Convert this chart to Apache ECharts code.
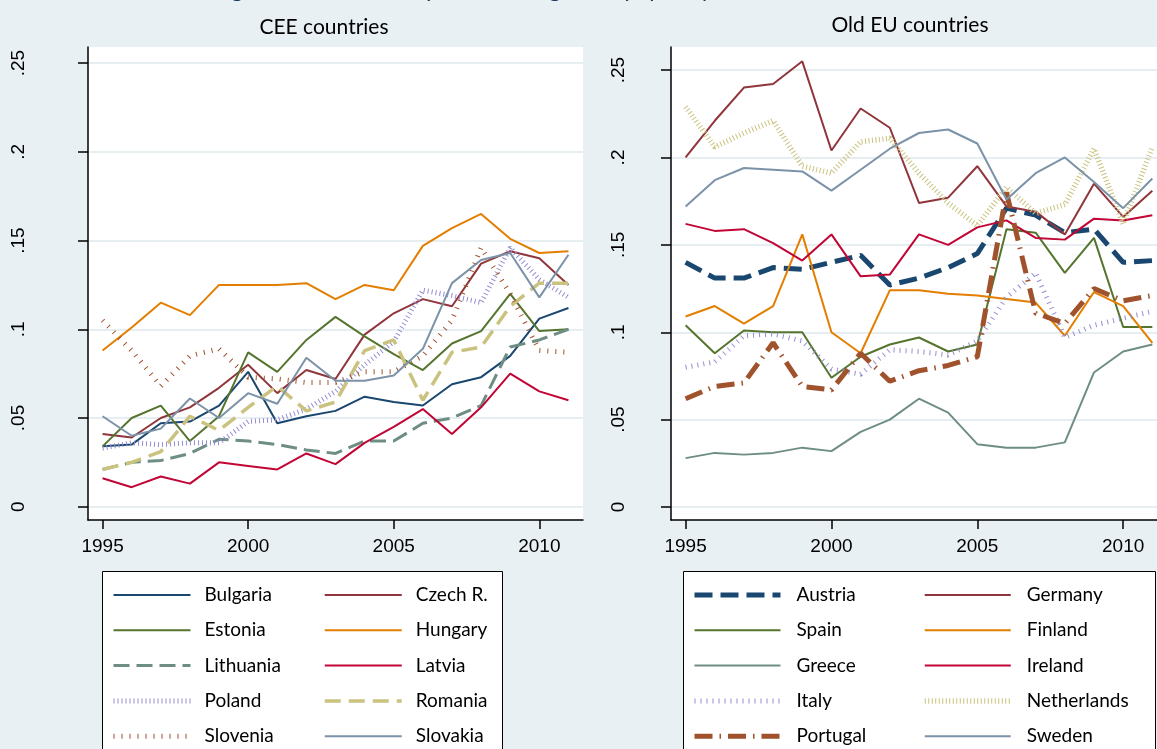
<!DOCTYPE html>
<html>
<head>
<meta charset="utf-8">
<script src="https://cdn.jsdelivr.net/npm/echarts@6/dist/echarts.min.js"></script>
<style>
  html, body { margin: 0; padding: 0; background: #e9f0f3; }
  #main { width: 1157px; height: 749px; }
</style>
</head>
<body>
<div id="main"></div>
<script>
// years on the x axis
var years = [1995, 1996, 1997, 1998, 1999, 2000, 2001, 2002, 2003, 2004, 2005, 2006, 2007, 2008, 2009, 2010, 2011];
var xTicks = [1995, 2000, 2005, 2010];
var yTicks = [0, 0.05, 0.1, 0.15, 0.2, 0.25];
var yTickLabels = ['0', '.05', '.1', '.15', '.2', '.25'];

// CEE countries
var bulgaria  = [0.034, 0.035, 0.047, 0.048, 0.057, 0.076, 0.047, 0.051, 0.054, 0.062, 0.059, 0.057, 0.069, 0.073, 0.085, 0.106, 0.112];
var czech     = [0.041, 0.039, 0.050, 0.056, 0.067, 0.080, 0.064, 0.077, 0.072, 0.097, 0.109, 0.117, 0.113, 0.137, 0.144, 0.140, 0.125];
var estonia   = [0.034, 0.050, 0.057, 0.037, 0.051, 0.087, 0.076, 0.094, 0.107, 0.096, 0.086, 0.077, 0.092, 0.099, 0.120, 0.099, 0.100];
var hungary   = [0.088, 0.101, 0.115, 0.108, 0.125, 0.125, 0.125, 0.126, 0.117, 0.125, 0.122, 0.147, 0.157, 0.165, 0.151, 0.143, 0.144];
var lithuania = [0.021, 0.025, 0.026, 0.030, 0.038, 0.037, 0.035, 0.032, 0.030, 0.037, 0.037, 0.047, 0.050, 0.057, 0.090, 0.094, 0.100];
var latvia    = [0.016, 0.011, 0.017, 0.013, 0.025, 0.023, 0.021, 0.030, 0.024, 0.036, 0.045, 0.055, 0.041, 0.056, 0.075, 0.065, 0.060];
var poland    = [0.033, 0.036, 0.035, 0.036, 0.036, 0.048, 0.049, 0.055, 0.065, 0.080, 0.093, 0.122, 0.119, 0.115, 0.146, 0.128, 0.118];
var romania   = [0.021, 0.025, 0.031, 0.051, 0.043, 0.056, 0.068, 0.054, 0.059, 0.088, 0.094, 0.060, 0.087, 0.090, 0.113, 0.126, 0.126];
var slovenia  = [0.105, 0.088, 0.068, 0.085, 0.089, 0.073, 0.072, 0.070, 0.070, 0.076, 0.076, 0.085, 0.105, 0.146, 0.120, 0.088, 0.087];
var slovakia  = [0.051, 0.040, 0.044, 0.061, 0.050, 0.064, 0.058, 0.084, 0.071, 0.071, 0.074, 0.089, 0.126, 0.139, 0.143, 0.118, 0.142];

// Old EU countries
var austria     = [0.140, 0.131, 0.131, 0.137, 0.136, 0.140, 0.144, 0.127, 0.131, 0.137, 0.145, 0.171, 0.167, 0.157, 0.159, 0.140, 0.141];
var germany     = [0.200, 0.221, 0.240, 0.242, 0.255, 0.204, 0.228, 0.217, 0.174, 0.177, 0.195, 0.172, 0.169, 0.156, 0.185, 0.166, 0.181];
var spain       = [0.104, 0.088, 0.101, 0.100, 0.100, 0.074, 0.086, 0.093, 0.097, 0.089, 0.093, 0.159, 0.157, 0.134, 0.154, 0.103, 0.103];
var finland     = [0.109, 0.115, 0.105, 0.115, 0.156, 0.100, 0.088, 0.124, 0.124, 0.122, 0.121, 0.119, 0.117, 0.098, 0.123, 0.115, 0.094];
var greece      = [0.028, 0.031, 0.030, 0.031, 0.034, 0.032, 0.043, 0.050, 0.062, 0.054, 0.036, 0.034, 0.034, 0.037, 0.077, 0.089, 0.093];
var ireland     = [0.162, 0.158, 0.159, 0.151, 0.141, 0.156, 0.132, 0.133, 0.156, 0.150, 0.160, 0.164, 0.154, 0.153, 0.165, 0.164, 0.167];
var italy       = [0.080, 0.083, 0.098, 0.099, 0.095, 0.079, 0.076, 0.090, 0.089, 0.087, 0.095, 0.120, 0.134, 0.097, 0.104, 0.108, 0.112];
var netherlands = [0.229, 0.206, 0.214, 0.221, 0.195, 0.191, 0.209, 0.211, 0.191, 0.174, 0.161, 0.183, 0.168, 0.173, 0.205, 0.162, 0.206];
var portugal    = [0.062, 0.069, 0.071, 0.094, 0.069, 0.067, 0.088, 0.072, 0.078, 0.081, 0.086, 0.180, 0.111, 0.105, 0.125, 0.118, 0.121];
var sweden      = [0.172, 0.187, 0.194, 0.193, 0.192, 0.181, 0.193, 0.205, 0.214, 0.216, 0.208, 0.176, 0.191, 0.200, 0.186, 0.171, 0.188];

// stata-ish palette
var navy = '#1a476f', maroon = '#90353b', green = '#55752f', orange = '#e37e00',
    teal = '#6e8e84', red = '#c10534', lav = '#938dd2', khaki = '#cac27e',
    sienna = '#a0522d', slate = '#7b92a8';

function pairs(arr) {
    return years.map(function (y, i) { return [y, arr[i]]; });
}

function line(name, arr, idx, color, width, dash) {
    return {
        name: name,
        type: 'line',
        xAxisIndex: idx,
        yAxisIndex: idx,
        data: pairs(arr),
        symbol: 'none',
        animation: false,
        lineStyle: { color: color, width: width, type: dash || 'solid', cap: 'butt' },
        itemStyle: { color: color }
    };
}

var series = [
    line('Bulgaria', bulgaria, 0, navy, 2),
    line('Czech R.', czech, 0, maroon, 2),
    line('Estonia', estonia, 0, green, 2),
    line('Hungary', hungary, 0, orange, 2),
    line('Lithuania', lithuania, 0, teal, 3, [16, 7]),
    line('Latvia', latvia, 0, red, 2),
    line('Poland', poland, 0, lav, 5, [1, 3]),
    line('Romania', romania, 0, khaki, 3.5, [16, 8]),
    line('Slovenia', slovenia, 0, sienna, 5, [1, 7]),
    line('Slovakia', slovakia, 0, slate, 2),

    line('Austria', austria, 1, navy, 5, [18, 8]),
    line('Germany', germany, 1, maroon, 2),
    line('Spain', spain, 1, green, 2),
    line('Finland', finland, 1, orange, 2),
    line('Greece', greece, 1, teal, 2),
    line('Ireland', ireland, 1, red, 2),
    line('Italy', italy, 1, lav, 5, [1, 5]),
    line('Netherlands', netherlands, 1, khaki, 5.5, [1, 2.5]),
    line('Portugal', portugal, 1, sienna, 5, [18, 7, 1.5, 7]),
    line('Sweden', sweden, 1, slate, 2)
];

var labelFont = 'Liberation Sans';
var textFont = 'Lato';

function xAxisCfg(idx, min, max) {
    return {
        type: 'value', gridIndex: idx, min: min, max: max,
        axisLine: { show: true, onZero: false, lineStyle: { color: '#000', width: 1.5 } },
        axisTick: { show: true, length: 9, customValues: xTicks, lineStyle: { color: '#000', width: 1.5 } },
        axisLabel: { customValues: xTicks, margin: 17, fontFamily: labelFont, fontSize: 19, color: '#000',
            formatter: function (v) { return String(v); } },
        splitLine: { show: false }
    };
}

function yAxisCfg(idx, min, max, margin) {
    return {
        type: 'value', gridIndex: idx, min: min, max: max,
        axisLine: { show: true, onZero: false, lineStyle: { color: '#000', width: 1.5 } },
        axisTick: { show: true, length: 10, customValues: yTicks, lineStyle: { color: '#000', width: 1.5 } },
        axisLabel: { customValues: yTicks, rotate: 90, margin: margin, fontFamily: labelFont, fontSize: 19, color: '#000',
            formatter: function (v) {
                var k = yTicks.findIndex(function (t) { return Math.abs(t - v) < 1e-9; });
                return k >= 0 ? yTickLabels[k] : '';
            } },
        splitLine: { show: true, lineStyle: { color: '#e6eef1', width: 2 } }
    };
}

function legendCol(names, left, iw, pad) {
    return {
        orient: 'vertical', left: left, top: 585, padding: 0,
        itemWidth: iw, itemHeight: 14, itemGap: 15.3,
        selectedMode: false,
        data: names,
        itemStyle: { opacity: 0 },
        lineStyle: { width: 'inherit' },
        textStyle: { fontFamily: textFont, fontSize: 19, color: '#000', lineHeight: 20, padding: [0, 0, 0, pad] }
    };
}

var chart = echarts.init(document.getElementById('main'));
chart.setOption({
    backgroundColor: '#e9f0f3',
    animation: false,
    title: [
        { text: 'Figure 2: The development of regulatory quality in CEE and Old EU countries', left: 610, top: -28, textAlign: 'center',
          textStyle: { fontFamily: textFont, fontSize: 24, fontWeight: 'normal', color: '#1f3864' } },
        { text: 'CEE countries', left: 319, top: 12, textAlign: 'center',
          textStyle: { fontFamily: textFont, fontSize: 21, fontWeight: 'normal', color: '#000' } },
        { text: 'Old EU countries', left: 905, top: 10, textAlign: 'center',
          textStyle: { fontFamily: textFont, fontSize: 21, fontWeight: 'normal', color: '#000' } }
    ],
    grid: [
        { left: 88, right: 574, top: 47, bottom: 229, show: true, backgroundColor: '#fff', borderWidth: 0 },
        { left: 671, right: 0, top: 47, bottom: 229, show: true, backgroundColor: '#fff', borderWidth: 0 }
    ],
    xAxis: [ xAxisCfg(0, 1994.5, 2011.5), xAxisCfg(1, 1994.5, 2011.16) ],
    yAxis: [ yAxisCfg(0, -0.0075, 0.2591, 60), yAxisCfg(1, -0.0074, 0.2632, 43) ],
    legend: [
        legendCol(['Bulgaria', 'Estonia', 'Lithuania', 'Poland', 'Slovenia'], 111, 77, 9),
        legendCol(['Czech R.', 'Hungary', 'Latvia', 'Romania', 'Slovakia'], 323, 77, 9),
        legendCol(['Austria', 'Spain', 'Greece', 'Italy', 'Portugal'], 692, 86, 11),
        legendCol(['Germany', 'Finland', 'Ireland', 'Netherlands', 'Sweden'], 922, 86, 11)
    ],
    graphic: [
        { type: 'rect', z: 1, shape: { x: 102.5, y: 571.5, width: 400, height: 200 },
          style: { fill: '#fff', stroke: '#000', lineWidth: 1 } },
        { type: 'rect', z: 1, shape: { x: 683.5, y: 571.5, width: 472, height: 200 },
          style: { fill: '#fff', stroke: '#000', lineWidth: 1 } }
    ],
    series: series
});
</script>
</body>
</html>
